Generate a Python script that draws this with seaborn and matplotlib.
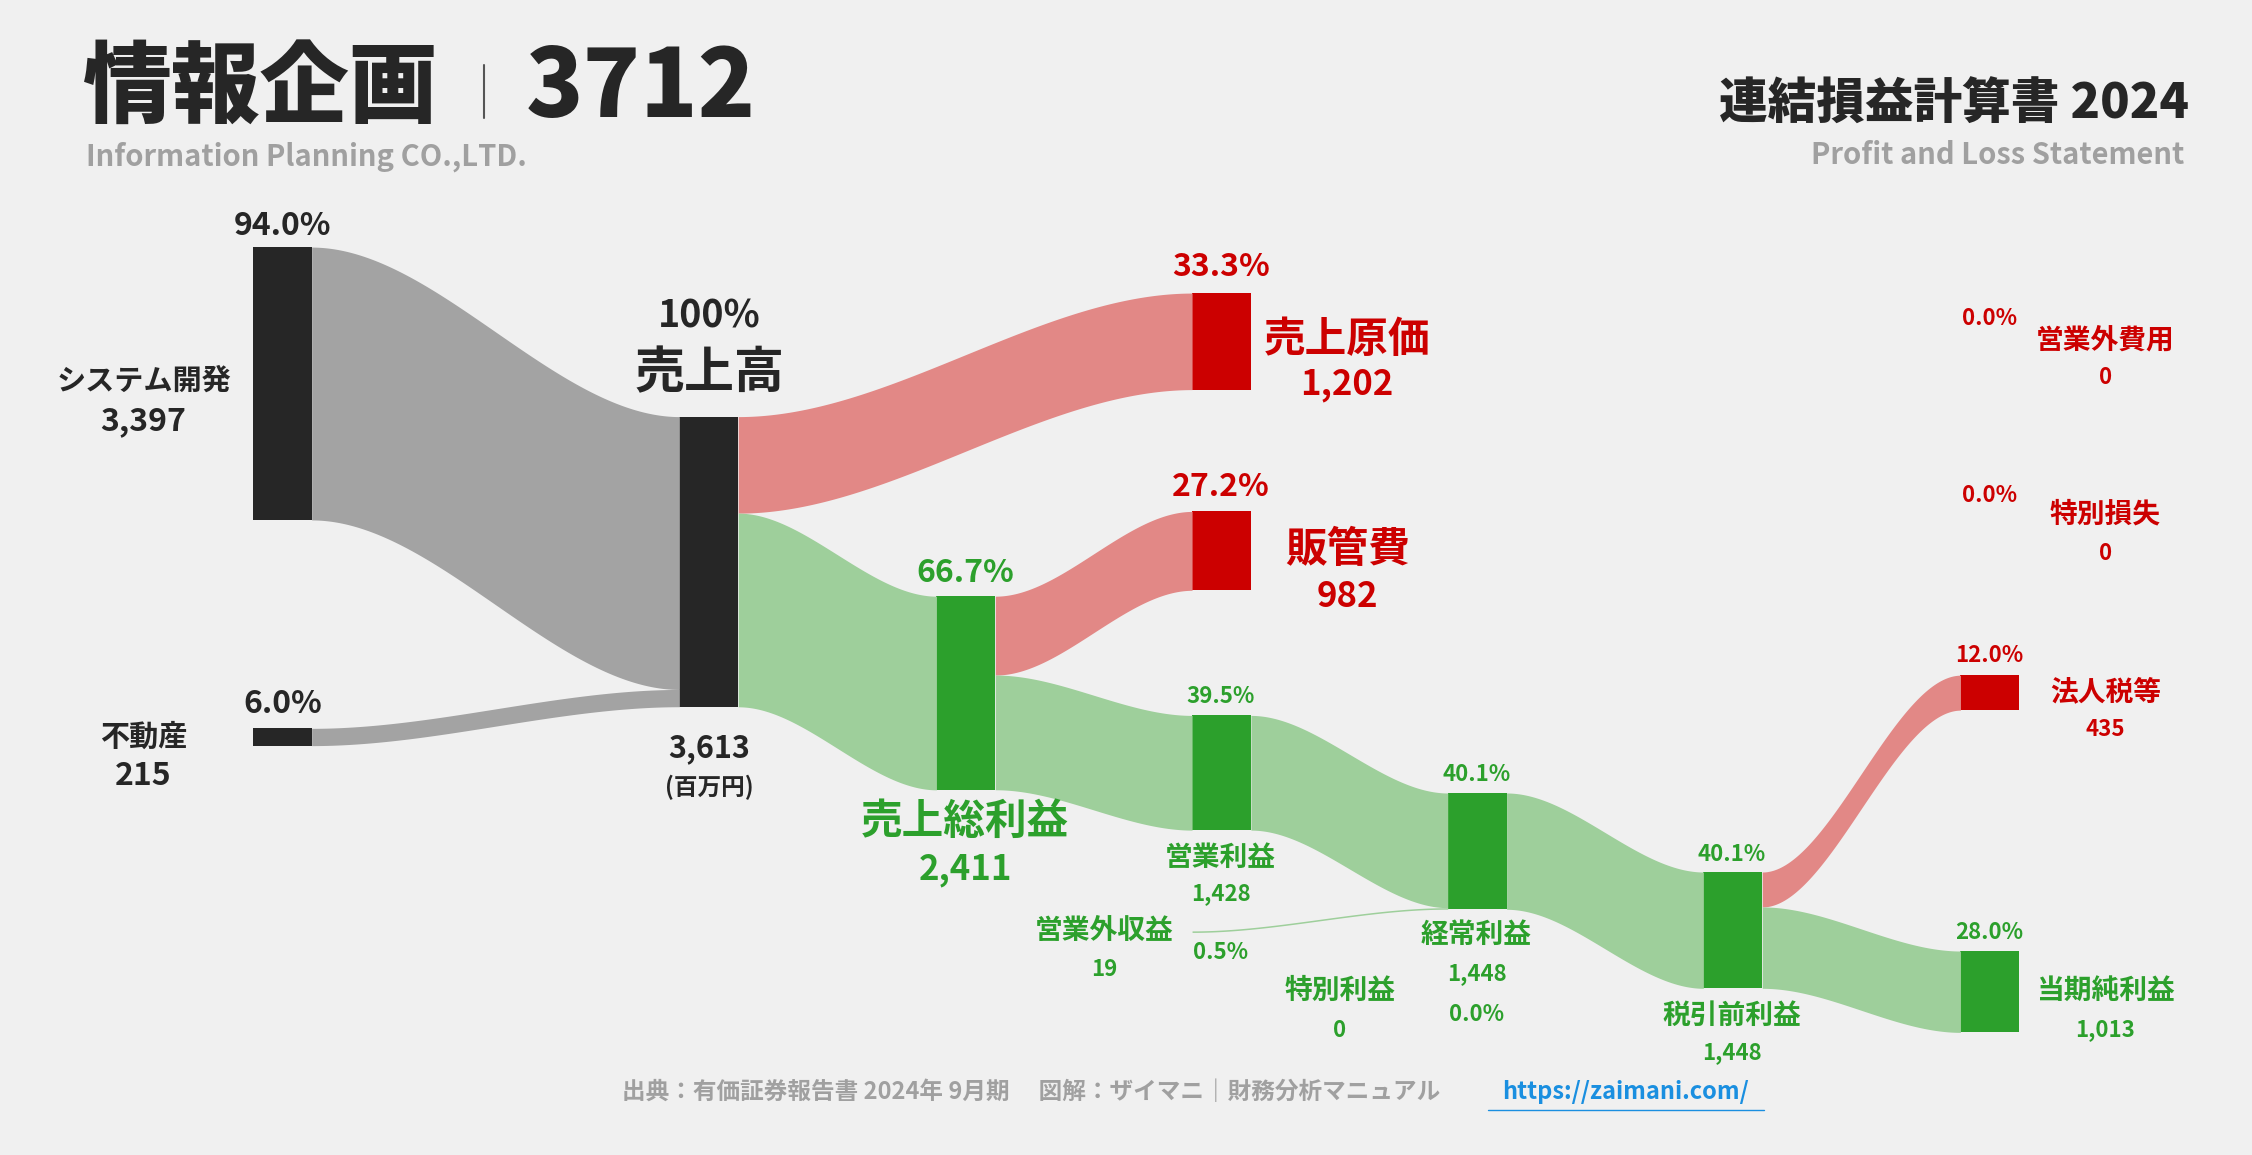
import numpy as np
import matplotlib.pyplot as plt
import seaborn as sns

# values in millions of yen
segments = ["システム開発", "不動産"]
segment_values = [3397, 215]
segment_pct = ["94.0%", "6.0%"]
revenue = 3613
cost = 1202
gross = 2411
sga = 982
op_income = 1428
nonop_income = 19
nonop_expense = 0
ordinary = 1448
special_gain = 0
special_loss = 0
pretax = 1448
tax = 435
net = 1013

BG = "#f0f0f0"
GRAY_F, RED_F, GREEN_F = "#a3a3a3", "#e28886", "#9ecf9b"
DARK, RED, GREEN = "#262626", "#cc0000", "#2ca02c"
FONT = "Noto Sans CJK JP"

sns.set_style("white", {"axes.facecolor": BG, "figure.facecolor": BG})
plt.rcParams["font.family"] = FONT

fig = plt.figure(figsize=(22.52, 11.55), dpi=100)
ax = fig.add_axes([0, 0, 1, 1])
ax.set_xlim(0, 1568)
ax.set_ylim(804, 0)
ax.axis("off")

k = 202 / revenue  # px per unit
W = 41


def h(v):
    return v * k


def node(x, top, v, color):
    ax.add_patch(plt.Rectangle((x, top), W, max(h(v), 1), color=color, lw=0))


def band(x0, x1, t0, t1, v, color):
    t = np.linspace(0, 1, 200)
    s = 3 * t ** 2 - 2 * t ** 3
    xs = x0 + (x1 - x0) * t
    top = t0 + (t1 - t0) * s
    ax.fill_between(xs, top, top + max(h(v), 1), color=color, lw=0)


def txt(x, y, s, size, color=DARK, ha="center", weight="bold"):
    ax.text(x, y, s, fontsize=size, color=color, ha=ha, va="center", fontweight=weight)


X0, X1, X2, X3, X4, X5, X6 = 176, 473, 652, 830, 1008, 1186, 1365

# nodes
seg_tops = [172, 507]
for top, v in zip(seg_tops, segment_values):
    node(X0, top, v, DARK)
node(X1, 290, revenue, DARK)
node(X3, 204, cost, RED)
node(X3, 356, sga, RED)
node(X2, 415, gross, GREEN)
node(X3, 498, op_income, GREEN)
node(X4, 552, ordinary, GREEN)
node(X5, 607, pretax, GREEN)
node(X6, 470, tax, RED)
node(X6, 662, net, GREEN)

# flows
band(X0 + W, X1, seg_tops[0], 290, segment_values[0], GRAY_F)
band(X0 + W, X1, seg_tops[1], 290 + h(segment_values[0]), segment_values[1], GRAY_F)
band(X1 + W, X3, 290, 204, cost, RED_F)
band(X1 + W, X2, 290 + h(cost), 415, gross, GREEN_F)
band(X2 + W, X3, 415, 356, sga, RED_F)
band(X2 + W, X3, 415 + h(sga), 498, op_income, GREEN_F)
band(X3 + W, X4, 498, 552, op_income, GREEN_F)
band(X3, X4, 648, 552 + h(op_income), nonop_income, GREEN_F)
band(X4 + W, X5, 552, 607, ordinary, GREEN_F)
band(X5 + W, X6, 607, 470, tax, RED_F)
band(X5 + W, X6, 607 + h(tax), 662, net, GREEN_F)

# header
txt(58, 62, "情報企画", 64, ha="left", weight="black")
ax.plot([337, 337], [45, 82], color="#555555", lw=1.5)
txt(366, 62, "3712", 68, ha="left", weight="black")
txt(60, 109, "Information Planning CO.,LTD.", 21, color="#a0a0a0", ha="left")
txt(1524, 73, "連結損益計算書 2024", 35, ha="right", weight="black")
txt(1521, 108, "Profit and Loss Statement", 21, color="#a0a0a0", ha="right")

# labels
txt(197, 157, segment_pct[0], 23)
txt(100, 265, segments[0], 21)
txt(100, 293, f"{segment_values[0]:,}", 23)
txt(197, 490, segment_pct[1], 23)
txt(100, 513, segments[1], 21)
txt(100, 540, f"{segment_values[1]:,}", 23)
txt(494, 220, "100%", 27)
txt(494, 260, "売上高", 36)
txt(494, 521, f"{revenue:,}", 22)
txt(494, 548, "(百万円)", 17)

txt(850, 186, f"{cost / revenue * 100:.1f}%", 23, RED)
txt(938, 237, "売上原価", 30, RED)
txt(938, 268, f"{cost:,}", 25, RED)
txt(850, 339, f"{sga / revenue * 100:.1f}%", 23, RED)
txt(938, 383, "販管費", 30, RED)
txt(938, 415, f"{sga:,}", 25, RED)
txt(672, 399, f"{gross / revenue * 100:.1f}%", 23, GREEN)
txt(672, 572, "売上総利益", 30, GREEN)
txt(672, 605, f"{gross:,}", 25, GREEN)

txt(850, 485, f"{op_income / revenue * 100:.1f}%", 16, GREEN)
txt(850, 597, "営業利益", 20, GREEN)
txt(850, 622, f"{op_income:,}", 16, GREEN)
txt(769, 648, "営業外収益", 20, GREEN)
txt(769, 675, f"{nonop_income:,}", 16, GREEN)
txt(850, 663, f"{nonop_income / revenue * 100:.1f}%", 16, GREEN)
txt(933, 690, "特別利益", 20, GREEN)
txt(933, 717, f"{special_gain:,}", 16, GREEN)
txt(1028, 706, f"{special_gain / revenue * 100:.1f}%", 16, GREEN)
txt(1028, 539, f"{ordinary / revenue * 100:.1f}%", 16, GREEN)
txt(1028, 651, "経常利益", 20, GREEN)
txt(1028, 678, f"{ordinary:,}", 16, GREEN)
txt(1206, 595, f"{pretax / revenue * 100:.1f}%", 16, GREEN)
txt(1206, 707, "税引前利益", 20, GREEN)
txt(1206, 733, f"{pretax:,}", 16, GREEN)

txt(1385, 456, f"{tax / revenue * 100:.1f}%", 16, RED)
txt(1466, 482, "法人税等", 20, RED)
txt(1466, 508, f"{tax:,}", 16, RED)
txt(1385, 649, f"{net / revenue * 100:.1f}%", 16, GREEN)
txt(1466, 690, "当期純利益", 20, GREEN)
txt(1466, 717, f"{net:,}", 16, GREEN)
txt(1385, 222, f"{nonop_expense / revenue * 100:.1f}%", 16, RED)
txt(1466, 237, "営業外費用", 20, RED)
txt(1466, 263, f"{nonop_expense:,}", 16, RED)
txt(1385, 345, f"{special_loss / revenue * 100:.1f}%", 16, RED)
txt(1466, 358, "特別損失", 20, RED)
txt(1466, 385, f"{special_loss:,}", 16, RED)

# footer
txt(718, 760, "出典：有価証券報告書 2024年 9月期　 図解：ザイマニ｜財務分析マニュアル", 17, color="#a0a0a0")
txt(1132, 760, "https://zaimani.com/", 17, color="#1a8fe0")
ax.plot([1036, 1228], [773, 773], color="#1a8fe0", lw=1)

fig.savefig("out.png", dpi=100, facecolor=BG)
